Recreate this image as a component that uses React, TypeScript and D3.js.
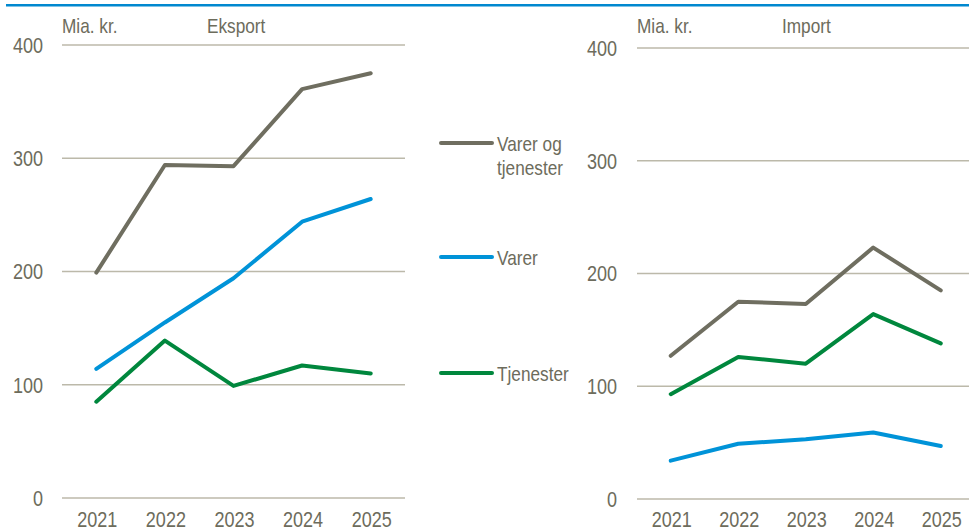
import React from "react";
import * as d3 from "d3";

const years = ["2021", "2022", "2023", "2024", "2025"];
const yTicks = [0, 100, 200, 300, 400];

const exportVoT = [199, 294, 293, 361, 375];
const exportVarer = [114, 155, 194, 244, 264];
const exportTjen = [85, 139, 99, 117, 110];

const importVoT = [127, 175, 173, 223, 185];
const importVarer = [34, 49, 53, 59, 47];
const importTjen = [93, 126, 120, 164, 138];

const seriesNames = ["Varer og tjenester", "Varer", "Tjenester"];
const colors = ["#6f6e60", "#0093d8", "#00873d"];

const FONT = "'Liberation Sans', Arial, sans-serif";
const TEXT = "#6d6c5c";
const GRID = "#bcb9aa";
const SX = 0.82;

type NTProps = {
  x: number;
  y: number;
  size: number;
  anchor?: "start" | "middle" | "end";
  dy?: string;
  children: React.ReactNode;
};

function NT({ x, y, size, anchor = "start", dy, children }: NTProps) {
  return (
    <text
      transform={`translate(${x},${y}) scale(${SX},1)`}
      dy={dy}
      textAnchor={anchor}
      fontSize={size}
      fill={TEXT}
      fontFamily={FONT}
    >
      {children}
    </text>
  );
}

type PanelProps = {
  title: string;
  x0: number;
  x1: number;
  yTop: number;
  yBottom: number;
  tickRight: number;
  titleX: number;
  series: number[][];
};

function Panel({ title, x0, x1, yTop, yBottom, tickRight, titleX, series }: PanelProps) {
  const x = d3.scaleBand<string>().domain(years).range([x0, x1]);
  const y = d3.scaleLinear().domain([0, 400]).range([yBottom, yTop]);
  const line = d3
    .line<number>()
    .x((_, i) => (x(years[i]) as number) + x.bandwidth() / 2)
    .y((d) => y(d));
  const gridRight = Math.min(x1, 969);
  return (
    <g>
      {yTicks.map((t) => (
        <g key={t}>
          <line x1={x0} x2={gridRight} y1={y(t)} y2={y(t)} stroke={GRID} strokeWidth={1.3} />
          <NT x={tickRight} y={y(t)} dy="0.36em" anchor="end" size={22}>
            {t}
          </NT>
        </g>
      ))}
      {years.map((yr) => (
        <NT key={yr} x={(x(yr) as number) + x.bandwidth() / 2 + 1} y={527} anchor="middle" size={22}>
          {yr}
        </NT>
      ))}
      <NT x={x0} y={33} size={21}>
        Mia. kr.
      </NT>
      <NT x={titleX} y={33} size={21}>
        {title}
      </NT>
      {series.map((s, i) => (
        <path
          key={i}
          d={line(s) || ""}
          fill="none"
          stroke={colors[i]}
          strokeWidth={4}
          strokeLinejoin="round"
          strokeLinecap="round"
        />
      ))}
    </g>
  );
}

export default function App() {
  const legendY = [143, 257, 373];
  return (
    <svg
      width={969}
      height={529}
      style={{ position: "absolute", left: 0, top: 0, background: "#fff" }}
    >
      <rect x={6} y={4} width={963} height={2.5} fill="#0088cf" />
      <Panel
        title="Eksport"
        x0={62}
        x1={405}
        yTop={45}
        yBottom={498}
        tickRight={43}
        titleX={207}
        series={[exportVoT, exportVarer, exportTjen]}
      />
      <Panel
        title="Import"
        x0={637}
        x1={974.5}
        yTop={48}
        yBottom={499}
        tickRight={617}
        titleX={782}
        series={[importVoT, importVarer, importTjen]}
      />
      {seriesNames.map((n, i) => (
        <g key={n}>
          <line
            x1={441}
            x2={492}
            y1={legendY[i]}
            y2={legendY[i]}
            stroke={colors[i]}
            strokeWidth={4}
            strokeLinecap="round"
          />
          {i === 0 ? (
            <g>
              <NT x={497} y={legendY[i]} dy="0.36em" size={21}>
                Varer og
              </NT>
              <NT x={497} y={legendY[i] + 24} dy="0.36em" size={21}>
                tjenester
              </NT>
            </g>
          ) : (
            <NT x={497} y={legendY[i]} dy="0.36em" size={21}>
              {n}
            </NT>
          )}
        </g>
      ))}
    </svg>
  );
}
